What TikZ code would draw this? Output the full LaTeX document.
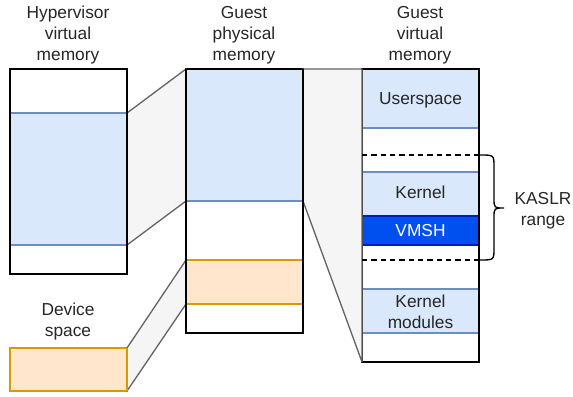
\documentclass[tikz,border=0pt]{standalone}
\usepackage{fontspec}
\setmainfont{Liberation Sans}
\begin{document}
\begin{tikzpicture}[x=0.75pt,y=-0.75pt,
  every node/.style={font=\fontsize{13pt}{15.75pt}\selectfont, text=black!85},
  mem/.style={draw=black, line width=1pt, fill=white, inner sep=0pt, outer sep=0pt, minimum width=87.75pt},
  bluebox/.style={draw=bluestroke, line width=1pt, fill=bluefill, inner sep=0pt, outer sep=0pt, minimum width=87.75pt, align=center},
  orangebox/.style={draw=orangestroke, line width=1pt, fill=orangefill, inner sep=0pt, outer sep=0pt, minimum width=87.75pt},
  vmshbox/.style={draw=vmshstroke, line width=1pt, fill=vmshfill, inner sep=0pt, outer sep=0pt, minimum width=87.75pt, text=white},
  outline/.style={draw=black, line width=1pt, inner sep=0pt, outer sep=0pt, minimum width=87.75pt},
  trap/.style={draw=gray66, fill=grayf5, line width=1pt, line join=round},
  label/.style={align=center}]
\definecolor{bluefill}{HTML}{DAE8FC}
\definecolor{bluestroke}{HTML}{6C8EBF}
\definecolor{orangefill}{HTML}{FFE6CC}
\definecolor{orangestroke}{HTML}{D79B00}
\definecolor{vmshfill}{HTML}{0050EF}
\definecolor{vmshstroke}{HTML}{001DBC}
\definecolor{gray66}{HTML}{666666}
\definecolor{grayf5}{HTML}{F5F5F5}
\useasboundingbox (0,0) rectangle (573,396);

% labels
\node[label] (hvl) at (68,35) {Hypervisor\\virtual\\memory};
\node[label] (gpl) at (244,35) {Guest\\physical\\memory};
\node[label] (gvl) at (420,35) {Guest\\virtual\\memory};
\node[label] (dvl) at (68,322) {Device\\space};
\node[label] (kasl) at (543,211) {KASLR\\range};

% hypervisor
\node[mem, minimum height=153.75pt] (hv) at (68.5,171.5) {};
\node[bluebox, minimum height=99pt] (hvb) at (68.5,179) {};
\node[outline, minimum height=153.75pt] (hvo) at (68.5,171.5) {};

% device
\node[orangebox, minimum height=32.25pt] (dev) at (68.5,369.5) {};

% guest physical
\node[mem, minimum height=198pt] (gp) at (244.5,201) {};
\node[bluebox, minimum height=99pt] (gpb) at (244.5,135) {};
\node[orangebox, minimum height=33pt] (gpo) at (244.5,282) {};
\node[outline, minimum height=198pt] (gpx) at (244.5,201) {};

% guest virtual
\node[mem, minimum height=219.75pt] (gv) at (420.5,215.5) {};
\node[bluebox, minimum height=44.25pt] (us) at (420.5,98.5) {};
\node at (420.5,100) {Userspace};
\node[bluebox, minimum height=33pt] (kn) at (420.5,194) {};
\node at (420.5,192) {Kernel};
\node[vmshbox, minimum height=21.75pt] (vm) at (420.5,230.5) {VMSH};
\node[bluebox, minimum height=33pt] (km) at (420.5,311) {};
\node[label] at (420.5,312) {Kernel\\modules};
\node[outline, minimum height=219.75pt] (gvo) at (420.5,215.5) {};

% trapezoids
\draw[trap] (hvb.north east) -- (gp.north west) -- (gpb.south west) -- (hvb.south east) -- cycle;
\draw[trap] (dev.north east) -- (gpo.north west) -- (gpo.south west) -- (dev.south east) -- cycle;
\draw[trap] (gp.north east) -- (gv.north west) -- (gv.south west) -- (gpb.south east) -- cycle;
% redraw borders over trapezoid edges
\draw[black, line width=1pt] (gp.north west) -- (gp.south west);
\draw[black, line width=1pt] (gp.north east) -- (gp.south east);
\draw[black, line width=1pt] (hv.north east) -- (hv.south east);
\draw[orangestroke, line width=1pt] (dev.north east) -- (dev.south east);

% KASLR range
\coordinate (d1a) at (362,155);
\coordinate (d1b) at (480,155);
\coordinate (d2a) at (362,260);
\coordinate (d2b) at (480,260);
\coordinate (tip) at (504,208);
\draw[dashed, line width=1pt, dash pattern=on 4pt off 3pt] (d1a) -- (d1b);
\draw[dashed, line width=1pt, dash pattern=on 4pt off 3pt] (d2a) -- (d2b);
\draw[line width=1pt] (d1b) .. controls (494,155) .. (494,167) -- (494,198)
  .. controls (494,208) .. (tip) .. controls (494,208) .. (494,218) -- (494,248)
  .. controls (494,260) .. (d2b);
\end{tikzpicture}
\end{document}
